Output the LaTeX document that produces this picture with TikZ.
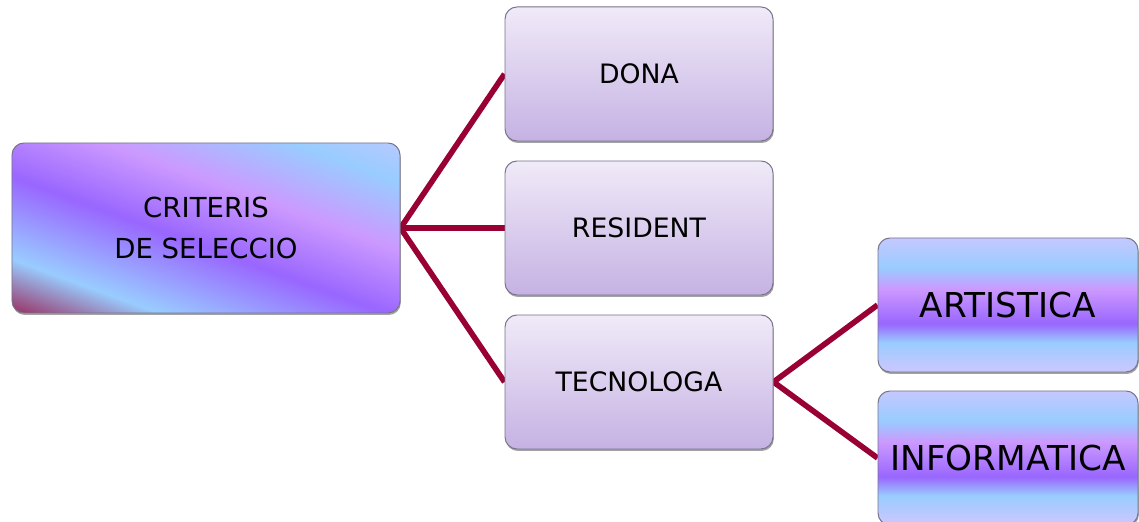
\documentclass[tikz,border=0pt]{standalone}
\usepackage{fontspec}
\setsansfont{DejaVu Sans}
\usepackage{xcolor}
\usetikzlibrary{positioning,shadings,shadows,backgrounds}

\definecolor{linkred}{HTML}{990033}
\definecolor{boxline}{HTML}{77748A}
\definecolor{lblue}{HTML}{99CCFF}
\definecolor{lilac}{HTML}{CC99FF}
\definecolor{vpurple}{HTML}{9966FF}
\definecolor{pale}{HTML}{C4C8FF}
\definecolor{optop}{HTML}{F0EAF8}
\definecolor{optbot}{HTML}{C5B2E3}

\pgfdeclareverticalshading{critshade}{100bp}{%
  color(0bp)=(linkred); color(16bp)=(linkred!90!lblue); color(29bp)=(lblue);
  color(46bp)=(vpurple); color(60bp)=(lilac); color(74bp)=(lblue); color(86bp)=(pale); color(100bp)=(pale)}
\pgfdeclareverticalshading{subshade}{100bp}{%
  color(0bp)=(pale); color(27bp)=(pale); color(36bp)=(lblue); color(43bp)=(vpurple);
  color(56bp)=(lilac); color(64bp)=(lblue); color(75bp)=(pale); color(100bp)=(pale)}

\tikzset{
  basebox/.style={rounded corners=0.3cm, draw=boxline, line width=0.7pt, align=center, text=black,
                  drop shadow={shadow xshift=0.02cm, shadow yshift=-0.05cm, opacity=0.6, fill=gray!80!black}},
  critbox/.style={basebox, minimum width=9.7cm, minimum height=4.25cm, shading=critshade, shading angle=-20,
                  font=\sffamily\fontsize{19.6}{29}\selectfont},
  optbox/.style={basebox, minimum width=6.7cm, minimum height=3.35cm, top color=optop, bottom color=optbot,
                 font=\sffamily\fontsize{19}{24}\selectfont},
  subbox/.style={basebox, minimum width=6.5cm, minimum height=3.35cm, shading=subshade,
                 font=\sffamily\fontsize{24.4}{29}\selectfont},
  link/.style={linkred, line width=4pt}
}

\begin{document}
\begin{tikzpicture}
    \useasboundingbox (0,0) rectangle (28.475,13.05);
    \node[critbox] (criteris) at (5.15,7.35) {CRITERIS\\DE SELECCIO};
    \foreach \y/\name/\txt in {11.2/dona/DONA,7.35/resident/RESIDENT,3.5/tecnologa/TECNOLOGA}{
        \node[optbox] (\name) at (15.975,\y) {\txt};
        \begin{scope}[on background layer]
            \draw[link] (criteris.east) -- (\name.west);
        \end{scope}
    }
    \foreach \y/\name/\txt in {5.425/artistica/ARTISTICA,1.6/informatica/INFORMATICA}{
        \node[subbox] (\name) at (25.2,\y) {\txt};
        \begin{scope}[on background layer]
            \draw[link] (tecnologa.east) -- (\name.west);
        \end{scope}
    }
\end{tikzpicture}
\end{document}
